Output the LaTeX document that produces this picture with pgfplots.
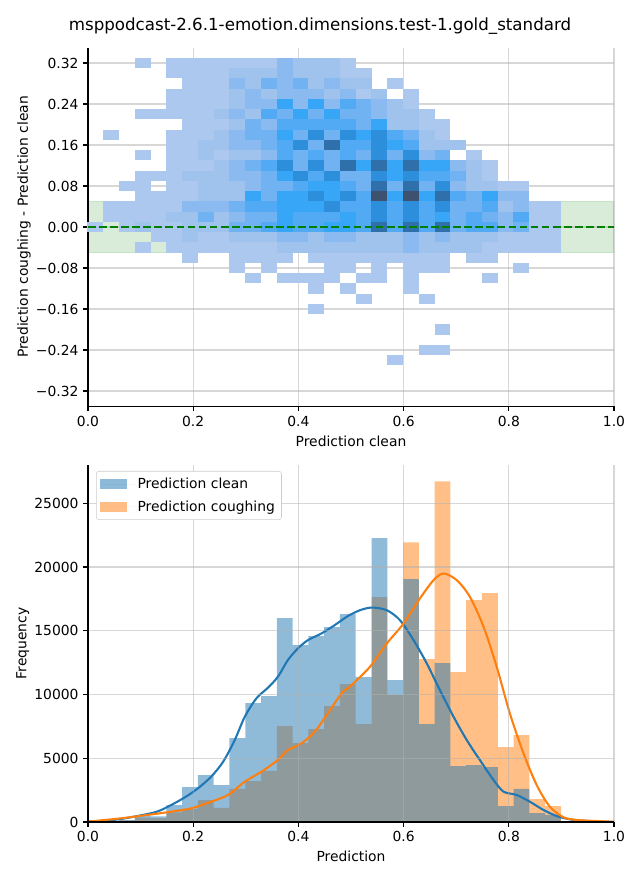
\documentclass[border=0pt]{standalone}
\usepackage{pgfplots}
\pgfplotsset{compat=1.18}
\usepackage{fontspec}
\setmainfont{DejaVu Sans}
\definecolor{tabblue}{HTML}{1F77B4}
\definecolor{taborange}{HTML}{FF7F0E}
\definecolor{gridc}{HTML}{B0B0B0}
\definecolor{mplgreen}{HTML}{008000}
\pgfdeclareplotmark{cell}{\pgfpathrectangle{\pgfpoint{-5.97pt}{-3.89pt}}{\pgfpoint{11.94pt}{7.78pt}}\pgfusepathqfill}
\pgfplotsset{
  common/.style={
    scale only axis, width=394.5pt, xmin=0, xmax=1,
    axis lines=left, axis line style={-, line width=0.83pt},
    tick align=outside, major tick length=3.6pt,
    tick style={line width=0.83pt, black},
    grid=major, major grid style={gridc, line width=0.83pt, opacity=0.5},
    axis on top,
    tick label style={font=\fontsize{10.4}{12}\selectfont},
    label style={font=\fontsize{10.4}{12}\selectfont},
    ylabel shift=-3pt,
    xtick={0,0.2,0.4,0.6,0.8,1}, xticklabels={0.0,0.2,0.4,0.6,0.8,1.0},
  }
}
\begin{document}
\begin{tikzpicture}
\useasboundingbox (0,0) rectangle (480pt,660pt);
\node[font=\fontsize{12.5}{15}\selectfont] at (240pt,640.5pt) {msppodcast-2.6.1-emotion.dimensions.test-1.gold\_standard};
\begin{axis}[common,
  at={(66pt,355.2pt)}, anchor=south west, height=269.1pt,
  ymin=-0.35, ymax=0.35,
  ytick={-0.32,-0.24,-0.16,-0.08,0,0.08,0.16,0.24,0.32},
  yticklabels={−0.32,−0.24,−0.16,−0.08,0.00,0.08,0.16,0.24,0.32},
  xlabel={Prediction clean}, ylabel={Prediction coughing - Prediction clean},
  colormap={cells}{rgb255=(172,200,238) rgb255=(160,195,238) rgb255=(138,186,240) rgb255=(112,178,242) rgb255=(82,170,245) rgb255=(56,166,246) rgb255=(45,143,220) rgb255=(48,112,170) rgb255=(62,82,112)},
  point meta min=1, point meta max=9,
]
\addplot[draw=mplgreen, draw opacity=0.15, fill=mplgreen, fill opacity=0.15, line width=0.8pt] coordinates {(0,-0.05) (1,-0.05) (1,0.05) (0,0.05) (0,-0.05)};
\addplot[scatter, only marks, mark=cell, point meta=explicit] table[row sep=\\, meta=l] {
x y l\\
0.104 0.32 1\\ 0.164 0.32 1\\ 0.194 0.32 1\\ 0.224 0.32 1\\ 0.254 0.32 1\\ 0.284 0.32 1\\ 0.314 0.32 1\\ 0.344 0.32 1\\ 0.374 0.32 3\\ 0.404 0.32 2\\ 0.434 0.32 2\\ 0.464 0.32 2\\ 0.494 0.32 1\\
0.164 0.30 1\\ 0.194 0.30 1\\ 0.224 0.30 1\\ 0.254 0.30 1\\ 0.284 0.30 2\\ 0.314 0.30 2\\ 0.344 0.30 2\\ 0.374 0.30 3\\ 0.404 0.30 2\\ 0.434 0.30 2\\ 0.464 0.30 2\\ 0.494 0.30 1\\ 0.524 0.30 1\\
0.194 0.28 1\\ 0.224 0.28 1\\ 0.254 0.28 1\\ 0.284 0.28 3\\ 0.314 0.28 2\\ 0.344 0.28 4\\ 0.374 0.28 3\\ 0.404 0.28 4\\ 0.434 0.28 2\\ 0.464 0.28 3\\ 0.494 0.28 2\\ 0.524 0.28 2\\ 0.584 0.28 1\\
0.164 0.26 1\\ 0.194 0.26 1\\ 0.224 0.26 1\\ 0.254 0.26 1\\ 0.284 0.26 2\\ 0.314 0.26 3\\ 0.344 0.26 2\\ 0.374 0.26 3\\ 0.404 0.26 3\\ 0.434 0.26 3\\ 0.464 0.26 2\\ 0.494 0.26 3\\ 0.524 0.26 1\\ 0.554 0.26 2\\ 0.614 0.26 1\\
0.164 0.24 1\\ 0.194 0.24 1\\ 0.224 0.24 1\\ 0.254 0.24 1\\ 0.284 0.24 2\\ 0.314 0.24 3\\ 0.344 0.24 3\\ 0.374 0.24 6\\ 0.404 0.24 3\\ 0.434 0.24 6\\ 0.464 0.24 3\\ 0.494 0.24 5\\ 0.524 0.24 4\\ 0.554 0.24 3\\ 0.584 0.24 2\\ 0.614 0.24 1\\
0.104 0.22 1\\ 0.134 0.22 1\\ 0.164 0.22 1\\ 0.194 0.22 1\\ 0.224 0.22 1\\ 0.254 0.22 2\\ 0.284 0.22 3\\ 0.314 0.22 2\\ 0.344 0.22 5\\ 0.374 0.22 4\\ 0.404 0.22 6\\ 0.434 0.22 4\\ 0.464 0.22 6\\ 0.494 0.22 4\\ 0.524 0.22 4\\ 0.554 0.22 3\\ 0.584 0.22 2\\ 0.614 0.22 2\\ 0.644 0.22 1\\
0.194 0.20 1\\ 0.224 0.20 1\\ 0.254 0.20 1\\ 0.284 0.20 2\\ 0.314 0.20 4\\ 0.344 0.20 3\\ 0.374 0.20 5\\ 0.404 0.20 5\\ 0.434 0.20 5\\ 0.464 0.20 5\\ 0.494 0.20 5\\ 0.524 0.20 4\\ 0.554 0.20 6\\ 0.584 0.20 2\\ 0.614 0.20 2\\ 0.644 0.20 1\\ 0.674 0.20 1\\
0.044 0.18 1\\ 0.164 0.18 1\\ 0.194 0.18 1\\ 0.224 0.18 1\\ 0.254 0.18 2\\ 0.284 0.18 3\\ 0.314 0.18 4\\ 0.344 0.18 4\\ 0.374 0.18 6\\ 0.404 0.18 4\\ 0.434 0.18 7\\ 0.464 0.18 4\\ 0.494 0.18 7\\ 0.524 0.18 6\\ 0.554 0.18 7\\ 0.584 0.18 5\\ 0.614 0.18 4\\ 0.644 0.18 2\\ 0.674 0.18 1\\
0.164 0.16 1\\ 0.194 0.16 1\\ 0.224 0.16 2\\ 0.254 0.16 2\\ 0.284 0.16 3\\ 0.314 0.16 3\\ 0.344 0.16 4\\ 0.374 0.16 5\\ 0.404 0.16 7\\ 0.434 0.16 4\\ 0.464 0.16 8\\ 0.494 0.16 5\\ 0.524 0.16 5\\ 0.554 0.16 7\\ 0.584 0.16 6\\ 0.614 0.16 5\\ 0.644 0.16 2\\ 0.674 0.16 2\\ 0.704 0.16 2\\
0.104 0.14 1\\ 0.164 0.14 1\\ 0.194 0.14 1\\ 0.224 0.14 2\\ 0.254 0.14 1\\ 0.284 0.14 2\\ 0.314 0.14 2\\ 0.344 0.14 3\\ 0.374 0.14 5\\ 0.404 0.14 4\\ 0.434 0.14 5\\ 0.464 0.14 4\\ 0.494 0.14 5\\ 0.524 0.14 4\\ 0.554 0.14 7\\ 0.584 0.14 4\\ 0.614 0.14 7\\ 0.644 0.14 3\\ 0.674 0.14 4\\ 0.734 0.14 1\\
0.164 0.12 1\\ 0.194 0.12 1\\ 0.224 0.12 1\\ 0.254 0.12 2\\ 0.284 0.12 3\\ 0.314 0.12 4\\ 0.344 0.12 5\\ 0.374 0.12 7\\ 0.404 0.12 4\\ 0.434 0.12 7\\ 0.464 0.12 4\\ 0.494 0.12 8\\ 0.524 0.12 6\\ 0.554 0.12 8\\ 0.584 0.12 6\\ 0.614 0.12 8\\ 0.644 0.12 6\\ 0.674 0.12 6\\ 0.704 0.12 3\\ 0.734 0.12 2\\ 0.764 0.12 1\\
0.104 0.10 1\\ 0.134 0.10 1\\ 0.164 0.10 1\\ 0.194 0.10 2\\ 0.224 0.10 2\\ 0.254 0.10 2\\ 0.284 0.10 3\\ 0.314 0.10 3\\ 0.344 0.10 4\\ 0.374 0.10 6\\ 0.404 0.10 7\\ 0.434 0.10 5\\ 0.464 0.10 7\\ 0.494 0.10 4\\ 0.524 0.10 4\\ 0.554 0.10 7\\ 0.584 0.10 6\\ 0.614 0.10 7\\ 0.644 0.10 5\\ 0.674 0.10 5\\ 0.704 0.10 4\\ 0.734 0.10 2\\ 0.764 0.10 1\\
0.074 0.08 1\\ 0.104 0.08 1\\ 0.164 0.08 1\\ 0.194 0.08 1\\ 0.224 0.08 2\\ 0.254 0.08 2\\ 0.284 0.08 2\\ 0.314 0.08 3\\ 0.344 0.08 4\\ 0.374 0.08 4\\ 0.404 0.08 5\\ 0.434 0.08 6\\ 0.464 0.08 6\\ 0.494 0.08 5\\ 0.524 0.08 4\\ 0.554 0.08 8\\ 0.584 0.08 4\\ 0.614 0.08 8\\ 0.644 0.08 4\\ 0.674 0.08 7\\ 0.704 0.08 3\\ 0.734 0.08 2\\ 0.764 0.08 2\\ 0.794 0.08 1\\ 0.824 0.08 1\\
0.104 0.06 1\\ 0.134 0.06 1\\ 0.164 0.06 1\\ 0.194 0.06 1\\ 0.224 0.06 2\\ 0.254 0.06 2\\ 0.284 0.06 2\\ 0.314 0.06 6\\ 0.344 0.06 4\\ 0.374 0.06 6\\ 0.404 0.06 6\\ 0.434 0.06 7\\ 0.464 0.06 6\\ 0.494 0.06 7\\ 0.524 0.06 5\\ 0.554 0.06 9\\ 0.584 0.06 6\\ 0.614 0.06 9\\ 0.644 0.06 6\\ 0.674 0.06 8\\ 0.704 0.06 5\\ 0.734 0.06 4\\ 0.764 0.06 6\\ 0.794 0.06 3\\ 0.824 0.06 3\\
0.044 0.04 1\\ 0.074 0.04 1\\ 0.104 0.04 1\\ 0.134 0.04 1\\ 0.164 0.04 1\\ 0.194 0.04 3\\ 0.224 0.04 3\\ 0.254 0.04 3\\ 0.284 0.04 4\\ 0.314 0.04 5\\ 0.344 0.04 5\\ 0.374 0.04 6\\ 0.404 0.04 6\\ 0.434 0.04 6\\ 0.464 0.04 7\\ 0.494 0.04 5\\ 0.524 0.04 5\\ 0.554 0.04 7\\ 0.584 0.04 5\\ 0.614 0.04 7\\ 0.644 0.04 5\\ 0.674 0.04 7\\ 0.704 0.04 4\\ 0.734 0.04 4\\ 0.764 0.04 5\\ 0.794 0.04 2\\ 0.824 0.04 3\\ 0.854 0.04 1\\ 0.884 0.04 1\\
0.044 0.02 1\\ 0.074 0.02 1\\ 0.104 0.02 1\\ 0.134 0.02 1\\ 0.164 0.02 2\\ 0.194 0.02 2\\ 0.224 0.02 4\\ 0.254 0.02 2\\ 0.284 0.02 3\\ 0.314 0.02 4\\ 0.344 0.02 4\\ 0.374 0.02 6\\ 0.404 0.02 5\\ 0.434 0.02 5\\ 0.464 0.02 5\\ 0.494 0.02 6\\ 0.524 0.02 5\\ 0.554 0.02 7\\ 0.584 0.02 5\\ 0.614 0.02 7\\ 0.644 0.02 5\\ 0.674 0.02 6\\ 0.704 0.02 4\\ 0.734 0.02 5\\ 0.764 0.02 4\\ 0.794 0.02 3\\ 0.824 0.02 5\\ 0.854 0.02 1\\ 0.884 0.02 1\\
0.014 0.00 1\\ 0.074 0.00 1\\ 0.104 0.00 2\\ 0.134 0.00 1\\ 0.164 0.00 1\\ 0.194 0.00 2\\ 0.224 0.00 2\\ 0.254 0.00 2\\ 0.284 0.00 4\\ 0.314 0.00 4\\ 0.344 0.00 5\\ 0.374 0.00 6\\ 0.404 0.00 5\\ 0.434 0.00 5\\ 0.464 0.00 6\\ 0.494 0.00 6\\ 0.524 0.00 5\\ 0.554 0.00 8\\ 0.584 0.00 5\\ 0.614 0.00 8\\ 0.644 0.00 5\\ 0.674 0.00 8\\ 0.704 0.00 4\\ 0.734 0.00 5\\ 0.764 0.00 5\\ 0.794 0.00 3\\ 0.824 0.00 4\\ 0.854 0.00 1\\ 0.884 0.00 1\\
0.134 -0.02 1\\ 0.164 -0.02 1\\ 0.194 -0.02 2\\ 0.224 -0.02 1\\ 0.254 -0.02 1\\ 0.284 -0.02 2\\ 0.314 -0.02 2\\ 0.344 -0.02 2\\ 0.374 -0.02 3\\ 0.404 -0.02 3\\ 0.434 -0.02 2\\ 0.464 -0.02 3\\ 0.494 -0.02 3\\ 0.524 -0.02 2\\ 0.554 -0.02 2\\ 0.584 -0.02 2\\ 0.614 -0.02 3\\ 0.644 -0.02 2\\ 0.674 -0.02 3\\ 0.704 -0.02 2\\ 0.734 -0.02 2\\ 0.764 -0.02 2\\ 0.794 -0.02 1\\ 0.824 -0.02 1\\ 0.854 -0.02 1\\ 0.884 -0.02 1\\
0.104 -0.04 1\\ 0.164 -0.04 1\\ 0.194 -0.04 1\\ 0.224 -0.04 1\\ 0.254 -0.04 1\\ 0.284 -0.04 1\\ 0.314 -0.04 1\\ 0.344 -0.04 1\\ 0.374 -0.04 2\\ 0.404 -0.04 2\\ 0.434 -0.04 2\\ 0.464 -0.04 2\\ 0.494 -0.04 2\\ 0.524 -0.04 2\\ 0.554 -0.04 2\\ 0.584 -0.04 2\\ 0.614 -0.04 3\\ 0.644 -0.04 2\\ 0.674 -0.04 2\\ 0.704 -0.04 2\\ 0.734 -0.04 2\\ 0.764 -0.04 1\\ 0.794 -0.04 1\\ 0.824 -0.04 1\\ 0.854 -0.04 1\\ 0.884 -0.04 1\\
0.194 -0.06 1\\ 0.284 -0.06 1\\ 0.314 -0.06 1\\ 0.344 -0.06 1\\ 0.374 -0.06 1\\ 0.434 -0.06 1\\ 0.464 -0.06 1\\ 0.494 -0.06 1\\ 0.524 -0.06 1\\ 0.554 -0.06 1\\ 0.584 -0.06 1\\ 0.614 -0.06 1\\ 0.644 -0.06 1\\ 0.674 -0.06 1\\ 0.734 -0.06 1\\ 0.764 -0.06 1\\
0.284 -0.08 1\\ 0.344 -0.08 1\\ 0.464 -0.08 1\\ 0.494 -0.08 1\\ 0.554 -0.08 1\\ 0.614 -0.08 1\\ 0.644 -0.08 1\\ 0.674 -0.08 1\\ 0.824 -0.08 1\\
0.314 -0.10 1\\ 0.374 -0.10 1\\ 0.404 -0.10 1\\ 0.434 -0.10 1\\ 0.464 -0.10 1\\ 0.524 -0.10 1\\ 0.554 -0.10 1\\ 0.614 -0.10 1\\ 0.764 -0.10 1\\
0.434 -0.12 1\\ 0.494 -0.12 1\\ 0.614 -0.12 1\\
0.524 -0.14 1\\ 0.644 -0.14 1\\
0.434 -0.16 1\\
0.674 -0.20 1\\
0.644 -0.24 1\\ 0.674 -0.24 1\\
0.584 -0.26 1\\
};
\end{axis}
\begin{axis}[
  at={(66pt,355.2pt)}, anchor=south west, scale only axis, width=394.5pt, height=269.1pt,
  xmin=0, xmax=1, ymin=-0.35, ymax=0.35, axis lines=none, ticks=none,
]
\addplot[draw=mplgreen, line width=1.56pt, dash pattern=on 5.8pt off 2.5pt] coordinates {(0,0) (1,0)};
\end{axis}
\begin{axis}[common,
  at={(66pt,43.5pt)}, anchor=south west, height=267.75pt,
  ymin=0, ymax=28000, scaled y ticks=false,
  ytick={0,5000,10000,15000,20000,25000},
  yticklabels={0,5000,10000,15000,20000,25000},
  xlabel={Prediction}, ylabel={Frequency},
  legend style={at={(0,1)}, anchor=north west, xshift=6pt, yshift=-4.5pt,
    draw={rgb,255:red,204;green,204;blue,204}, rounded corners=2pt, fill=white,
    font=\fontsize{10.4}{12}\selectfont, row sep=3.5pt, inner sep=3pt},
  legend cell align=left,
  legend image code/.code={\fill[#1, sharp corners] (0pt,-3.8pt) rectangle (20pt,3.8pt); \path (0pt,0pt) -- (26pt,0pt);},
]
\addlegendimage{fill=tabblue, fill opacity=0.5, draw=none}
\addlegendentry{Prediction clean}
\addlegendimage{fill=taborange, fill opacity=0.5, draw=none}
\addlegendentry{Prediction coughing}
\addplot[const plot, fill=taborange, fill opacity=0.5, draw=none, forget plot] table {
x y
0 20
0.029 50
0.059 120
0.089 350
0.119 300
0.149 760
0.179 1020
0.209 1720
0.239 1100
0.269 2590
0.299 3210
0.329 4000
0.359 7520
0.389 6190
0.419 7290
0.449 9090
0.479 10820
0.509 7680
0.539 17630
0.569 9950
0.599 21940
0.629 12770
0.659 26720
0.689 11760
0.719 17400
0.749 17950
0.779 5880
0.809 6820
0.839 1800
0.869 1250
0.899 60
0.929 60
} \closedcycle;
\addplot[const plot, fill=tabblue, fill opacity=0.5, draw=none, forget plot] table {
x y
0 30
0.029 60
0.059 150
0.089 500
0.119 450
0.149 1330
0.179 2740
0.209 3680
0.239 2900
0.269 6580
0.299 9330
0.329 9880
0.359 15990
0.389 13870
0.419 14580
0.449 15280
0.479 16300
0.509 11360
0.539 22260
0.569 11130
0.599 19040
0.629 7680
0.659 12460
0.689 4390
0.719 4470
0.749 4310
0.779 1250
0.809 2590
0.839 700
0.869 550
0.899 40
0.929 40
} \closedcycle;
\addplot[tabblue, line width=1.56pt, smooth, forget plot] coordinates {
(0,40) (0.038,110) (0.076,330) (0.127,760) (0.152,1200) (0.184,1930) (0.209,2640) (0.234,3550) (0.257,4730) (0.279,6430) (0.298,8250) (0.32,9690) (0.342,10530) (0.361,11390) (0.38,12700) (0.399,13610) (0.418,14260) (0.444,14790) (0.469,15440) (0.494,16150) (0.517,16610) (0.54,16820) (0.568,16610) (0.593,15830) (0.619,14260) (0.644,12440) (0.669,10350) (0.695,8250) (0.72,6430) (0.745,4860) (0.771,3290) (0.79,2380) (0.815,2120) (0.84,1590) (0.866,940) (0.891,470) (0.916,210) (0.942,100) (0.97,30) (1.0,5)
};
\addplot[taborange, line width=1.56pt, smooth, forget plot] coordinates {
(0,30) (0.063,290) (0.127,630) (0.158,810) (0.196,1070) (0.234,1590) (0.266,2120) (0.298,3160) (0.33,3950) (0.361,4860) (0.38,5640) (0.406,6170) (0.431,7080) (0.456,8520) (0.482,10080) (0.5,10700) (0.536,12170) (0.568,14000) (0.6,15570) (0.631,17530) (0.657,18970) (0.676,19490) (0.701,18970) (0.726,17660) (0.752,15310) (0.777,12170) (0.802,8520) (0.828,5380) (0.853,2900) (0.878,1200) (0.904,370) (0.929,160) (0.954,100) (1.0,20)
};
\end{axis}
\end{tikzpicture}
\end{document}
